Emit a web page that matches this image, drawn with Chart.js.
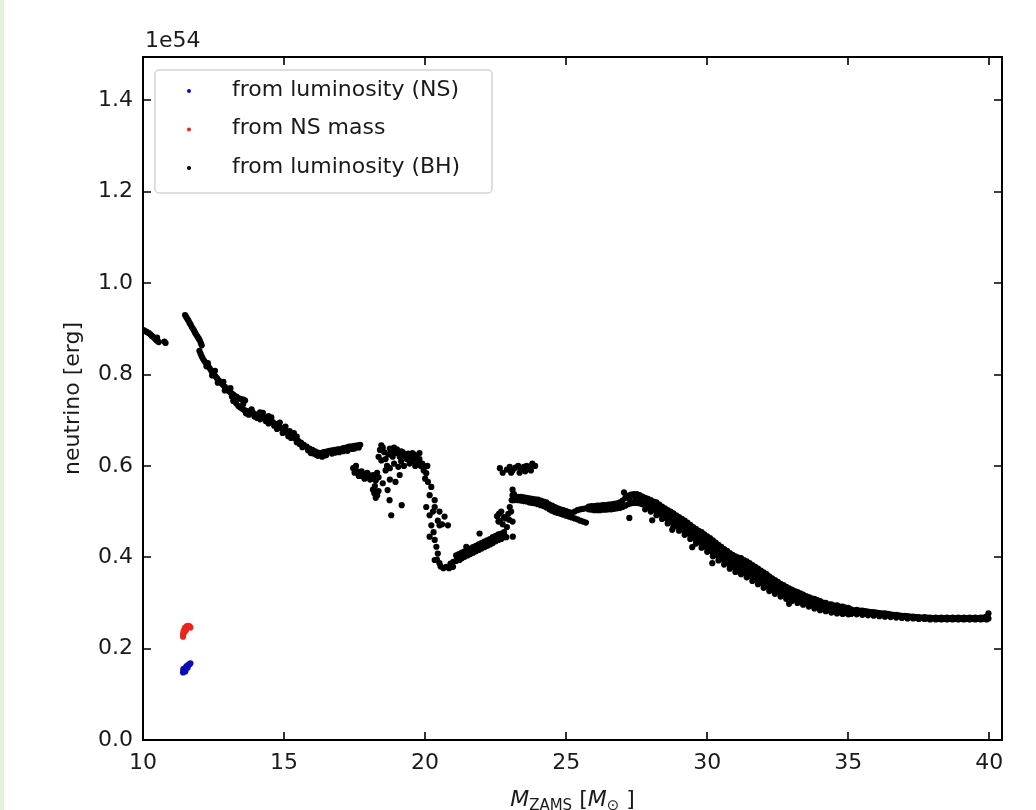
<!DOCTYPE html>
<html><head><meta charset="utf-8">
<script src="https://cdn.jsdelivr.net/npm/chart.js@4.4.1/dist/chart.umd.min.js"></script>
<style>
html,body{margin:0;padding:0;background:#fff;}
#wrap{position:relative;width:1036px;height:810px;overflow:hidden;}
#strip{position:absolute;left:0;top:0;width:4px;height:810px;background:#e4f0dc;}
canvas{display:block;}
</style></head><body>
<div id="wrap"><canvas id="c" width="1036" height="810"></canvas><div id="strip"></div></div>
<script>
// ---------------- data ----------------
const xTicks = [10, 15, 20, 25, 30, 35, 40];
const yTicks = [0, 0.2, 0.4, 0.6, 0.8, 1.0, 1.2, 1.4];
const seriesLabels = ['from luminosity (NS)', 'from NS mass', 'from luminosity (BH)'];
const seriesColors = ['#0d0db4', '#e8261e', '#000000'];

const nsLumPoints = [[11.42,0.148],[11.45,0.152],[11.48,0.156],[11.52,0.159],[11.55,0.162],[11.6,0.164],[11.65,0.166],[11.68,0.168],[11.43,0.155],[11.5,0.15],[11.58,0.158]];
const nsMassPoints = [[11.42,0.232],[11.44,0.238],[11.47,0.243],[11.5,0.246],[11.55,0.249],[11.6,0.25],[11.65,0.249],[11.68,0.246],[11.42,0.226],[11.46,0.235],[11.52,0.24]];

const bhLowMass = [[10.02,0.897],[10.08,0.895],[10.14,0.893],[10.2,0.891],[10.26,0.888],[10.3,0.885],[10.35,0.883],[10.4,0.88],[10.44,0.878],[10.48,0.875],[10.52,0.873],[10.56,0.871],[10.5,0.881],[10.76,0.872],[10.8,0.869]];

const bhDecline = [[11.49,0.930],[11.53,0.926],[11.57,0.922],[11.61,0.918],[11.65,0.913],[11.69,0.909],[11.73,0.904],[11.77,0.9],[11.81,0.896],[11.85,0.891],[11.89,0.887],[11.93,0.883],[11.97,0.879],[12.01,0.875],[12.05,0.869],[12.08,0.864],[12.0,0.852],[12.04,0.846],[12.08,0.84],[12.12,0.835],[12.17,0.83],[12.22,0.826],[12.27,0.822],[12.32,0.818],[12.37,0.813],[12.42,0.808],[12.47,0.804],[12.52,0.8],[12.57,0.796],[12.62,0.792],[12.67,0.788],[12.72,0.785],[12.78,0.781],[12.84,0.777],[12.9,0.773],[12.96,0.769],[13.02,0.765],[13.08,0.762],[13.14,0.759],[13.2,0.756],[13.26,0.753],[13.32,0.751],[13.4,0.748],[13.48,0.746],[13.56,0.745],[13.62,0.743],[13.2,0.742],[13.3,0.737],[13.38,0.731],[13.45,0.728],[13.52,0.725],[13.6,0.722],[13.7,0.72],[13.8,0.718],[13.9,0.716],[14.0,0.713],[14.1,0.711],[14.2,0.708],[14.3,0.706],[14.4,0.703],[14.5,0.7],[14.6,0.696],[14.7,0.692],[14.8,0.687],[14.9,0.683],[15.0,0.678],[15.1,0.674],[15.2,0.669],[15.3,0.664],[15.4,0.66],[15.5,0.655],[15.6,0.651],[15.7,0.646],[15.8,0.642],[15.9,0.638],[16.0,0.635],[16.1,0.632],[16.2,0.629],[16.3,0.628],[16.4,0.63],[16.5,0.631],[16.6,0.633],[16.7,0.634],[16.8,0.635],[16.9,0.636],[17.0,0.637],[17.1,0.639],[17.2,0.64],[17.3,0.642],[17.4,0.643],[17.5,0.644],[17.6,0.645],[17.7,0.646],[13.75,0.712],[14.05,0.705],[14.35,0.698],[14.65,0.688],[14.95,0.672],[15.25,0.661],[15.55,0.648],[15.85,0.634],[16.05,0.627],[16.2,0.622],[16.35,0.62],[16.5,0.624],[16.7,0.627],[16.95,0.63],[17.25,0.633],[17.5,0.638],[14.25,0.716],[14.55,0.706],[15.05,0.686],[15.35,0.672],[12.55,0.808],[12.3,0.825],[12.85,0.784],[13.1,0.77],
[12.25,0.818],[12.45,0.798],[12.65,0.782],[12.9,0.765],[13.15,0.752],[13.65,0.715],[13.95,0.708],[14.15,0.702],[14.45,0.693],[14.75,0.681],[15.15,0.665],[15.45,0.652],[15.65,0.641],[15.95,0.628],[16.15,0.624],[16.45,0.623],[16.8,0.629],[17.1,0.632],[17.4,0.637],[17.65,0.64],[13.55,0.735],[13.85,0.724],[14.15,0.717],[14.45,0.709],[14.85,0.695],[15.2,0.676],[15.45,0.664]];

const bhDip = [[17.45,0.595],[17.5,0.585],[17.55,0.6],[17.6,0.588],[17.65,0.578],[17.7,0.578],[17.75,0.588],[17.8,0.582],[17.85,0.572],[17.9,0.575],[17.95,0.585],[18.0,0.58],[18.05,0.57],[18.1,0.572],[18.15,0.58],[18.2,0.578],[18.25,0.568],[18.3,0.585],[18.35,0.575],[18.15,0.548],[18.2,0.54],[18.25,0.53],[18.3,0.535],[18.35,0.545],[18.22,0.556],[18.5,0.562],[18.67,0.547],[18.74,0.525],[18.8,0.492],[19.17,0.514],[18.75,0.57],[18.95,0.565],[19.1,0.58],[18.35,0.62],[18.4,0.635],[18.45,0.645],[18.5,0.64],[18.55,0.63],[18.6,0.615],[18.65,0.6],[18.7,0.625],[18.75,0.638],[18.8,0.632],[18.85,0.62],[18.9,0.605],[18.95,0.628],[19.0,0.636],[19.05,0.63],[19.1,0.62],[19.15,0.61],[19.2,0.63],[19.25,0.622],[19.3,0.625],[19.35,0.615],[19.4,0.627],[19.45,0.62],[19.5,0.62],[19.55,0.61],[19.6,0.625],[19.65,0.618],[19.7,0.622],[19.75,0.61],[19.8,0.615],[19.85,0.6],[19.9,0.605],[19.95,0.59],[18.6,0.59],[18.75,0.595],[19.05,0.598],[19.25,0.6],[19.45,0.605],[19.65,0.6],[18.45,0.612],[18.9,0.64],[19.15,0.632],[19.55,0.628],[19.8,0.628],[19.92,0.598],[20.04,0.584],[20.1,0.565],[20.22,0.554],[20.16,0.536],[20.34,0.525],[20.04,0.51],[20.34,0.51],[20.51,0.5],[20.69,0.489],[20.81,0.47],[20.51,0.47],[20.16,0.492],[20.22,0.47],[20.16,0.445],[20.34,0.438],[20.4,0.423],[20.45,0.408],[20.34,0.394],[20.51,0.387],[20.0,0.572],[20.08,0.6],[20.28,0.5],[20.3,0.455],[20.45,0.48],[20.6,0.472],[20.42,0.395]];

const bhRise = [[20.55,0.38],[20.65,0.376],[20.75,0.379],[20.85,0.376],[20.9,0.386],[20.99,0.379],[21.0,0.39],[21.1,0.392],[21.1,0.404],[21.2,0.395],[21.2,0.407],[21.3,0.398],[21.3,0.41],[21.4,0.401],[21.4,0.413],[21.5,0.404],[21.5,0.416],[21.6,0.407],[21.6,0.419],[21.7,0.41],[21.7,0.422],[21.8,0.413],[21.8,0.425],[21.9,0.416],[21.9,0.428],[22.0,0.419],[22.0,0.431],[22.1,0.422],[22.1,0.434],[22.2,0.425],[22.2,0.437],[22.3,0.428],[22.3,0.44],[22.4,0.431],[22.4,0.444],[22.5,0.435],[22.5,0.447],[22.6,0.438],[22.6,0.45],[22.7,0.44],[22.7,0.452],[22.8,0.444],[22.8,0.455],[22.88,0.444],[23.11,0.445],[21.93,0.452],[21.46,0.423],[21.22,0.394],[22.55,0.49],[22.6,0.478],[22.65,0.48],[22.7,0.5],[22.75,0.472],[22.8,0.488],[22.85,0.485],[22.9,0.466],[22.95,0.495],[23.0,0.51],[23.05,0.5],[23.1,0.478],[23.15,0.525],[23.15,0.538],[23.1,0.548],[22.62,0.495],[22.98,0.482],[22.65,0.595],[22.75,0.585],[22.9,0.592],[23.0,0.598],[23.1,0.59],[23.2,0.596],[23.3,0.6],[23.4,0.592],[23.5,0.598],[23.6,0.6],[23.7,0.598],[23.8,0.605],[23.9,0.6],[23.35,0.585],[23.55,0.588],[23.05,0.585],[23.75,0.59]];

const bhPlateau = [[23.3,0.525],[23.3,0.532],[23.4,0.524],[23.4,0.532],[23.5,0.523],[23.5,0.531],[23.6,0.522],[23.6,0.53],[23.7,0.52],[23.7,0.529],[23.8,0.519],[23.8,0.528],[23.9,0.518],[23.9,0.527],[24.0,0.516],[24.0,0.526],[24.1,0.514],[24.1,0.524],[24.2,0.512],[24.2,0.522],[24.3,0.509],[24.3,0.52],[24.4,0.505],[24.4,0.516],[24.5,0.502],[24.5,0.513],[24.6,0.499],[24.6,0.51],[24.7,0.497],[24.7,0.507],[24.8,0.495],[24.8,0.505],[24.9,0.493],[24.9,0.503],[25.0,0.491],[25.0,0.501],[25.1,0.489],[25.1,0.499],[25.2,0.487],[25.2,0.497],[25.3,0.485],[25.3,0.5],[25.4,0.483],[25.4,0.503],[25.5,0.48],[25.5,0.505],[25.6,0.478],[25.6,0.506],[25.7,0.476],[25.7,0.507],[25.8,0.505],[25.8,0.511],[25.9,0.504],[25.9,0.512],[26.0,0.503],[26.0,0.512],[26.1,0.503],[26.1,0.513],[26.2,0.503],[26.2,0.513],[26.3,0.504],[26.3,0.514],[26.4,0.504],[26.4,0.514],[26.5,0.505],[26.5,0.515],[26.6,0.505],[26.6,0.516],[26.7,0.506],[26.7,0.517],[26.8,0.507],[26.8,0.518],[26.9,0.508],[26.9,0.52],[27.0,0.51],[27.0,0.524],[27.1,0.513],[27.1,0.53],[27.2,0.516],[27.2,0.535],[27.3,0.518],[27.3,0.537],[27.4,0.519],[27.4,0.538],[27.5,0.519],[27.5,0.538],[27.6,0.518],[27.6,0.536],[27.7,0.516],[27.7,0.533],[27.25,0.527],[27.45,0.53],[27.65,0.527],[27.05,0.542],[27.24,0.486],[23.1,0.536],[23.07,0.525]];

const bhTail = [
[27.8,0.505],[27.8,0.518],[27.8,0.53],[27.9,0.511],[27.9,0.523],[27.9,0.528],[28.0,0.5],[28.0,0.512],[28.0,0.525],[28.1,0.505],[28.1,0.518],[28.1,0.522],
[28.2,0.492],[28.2,0.506],[28.2,0.52],[28.3,0.496],[28.3,0.51],[28.3,0.515],[28.4,0.484],[28.4,0.497],[28.4,0.511],[28.5,0.486],[28.5,0.501],[28.5,0.507],
[28.6,0.474],[28.6,0.489],[28.6,0.503],[28.7,0.478],[28.7,0.493],[28.7,0.5],[28.8,0.466],[28.8,0.482],[28.8,0.496],[28.9,0.47],[28.9,0.485],[28.9,0.492],
[29.0,0.458],[29.0,0.473],[29.0,0.488],[29.1,0.461],[29.1,0.476],[29.1,0.484],[29.2,0.449],[29.2,0.464],[29.2,0.48],[29.3,0.453],[29.3,0.468],[29.3,0.476],
[29.4,0.44],[29.4,0.455],[29.4,0.471],[29.5,0.443],[29.5,0.458],[29.5,0.466],[29.6,0.43],[29.6,0.446],[29.6,0.462],[29.7,0.433],[29.7,0.45],[29.7,0.458],
[29.8,0.421],[29.8,0.438],[29.8,0.455],[29.9,0.424],[29.9,0.441],[29.9,0.45],[30.0,0.412],[30.0,0.428],[30.0,0.446],[30.1,0.415],[30.1,0.432],[30.1,0.442],
[30.2,0.402],[30.2,0.419],[30.2,0.437],[30.3,0.406],[30.3,0.422],[30.3,0.432],[30.4,0.393],[30.4,0.41],[30.4,0.427],[30.5,0.397],[30.5,0.413],[30.5,0.423],
[30.6,0.384],[30.6,0.401],[30.6,0.418],[30.7,0.388],[30.7,0.404],[30.7,0.414],[30.8,0.375],[30.8,0.392],[30.8,0.409],[30.9,0.379],[30.9,0.395],[30.9,0.405],
[31.0,0.368],[31.0,0.385],[31.0,0.402],[31.1,0.373],[31.1,0.39],[31.1,0.399],[31.2,0.363],[31.2,0.381],[31.2,0.398],[31.3,0.367],[31.3,0.385],[31.3,0.394],
[31.4,0.356],[31.4,0.373],[31.4,0.391],[31.5,0.36],[31.5,0.377],[31.5,0.387],[31.6,0.348],[31.6,0.365],[31.6,0.383],[31.7,0.352],[31.7,0.369],[31.7,0.379],
[31.8,0.341],[31.8,0.357],[31.8,0.375],[31.9,0.345],[31.9,0.361],[31.9,0.371],[32.0,0.333],[32.0,0.349],[32.0,0.367],[32.1,0.337],[32.1,0.353],[32.1,0.363],
[32.2,0.326],[32.2,0.341],[32.2,0.358],[32.3,0.331],[32.3,0.346],[32.3,0.354],[32.4,0.32],[32.4,0.334],[32.4,0.35],[32.5,0.325],[32.5,0.339],[32.5,0.346],
[32.6,0.314],[32.6,0.328],[32.6,0.342],[32.7,0.319],[32.7,0.332],[32.7,0.339],[32.8,0.309],[32.8,0.321],[32.8,0.335],[32.9,0.314],[32.9,0.326],[32.9,0.332],
[33.0,0.304],[33.0,0.316],[33.0,0.329],[33.1,0.308],[33.1,0.32],[33.1,0.326],[33.2,0.3],[33.2,0.311],[33.2,0.324],[33.3,0.304],[33.3,0.315],[33.3,0.321],
[33.4,0.296],[33.4,0.307],[33.4,0.318],[33.5,0.299],[33.5,0.31],[33.5,0.315],[33.6,0.292],[33.6,0.302],[33.6,0.313],[33.7,0.295],[33.7,0.305],[33.7,0.31],
[33.8,0.288],[33.8,0.298],[33.8,0.309],[33.9,0.291],[33.9,0.301],[33.9,0.306],[34.0,0.284],[34.0,0.294],[34.0,0.304],[34.1,0.287],[34.1,0.297],[34.1,0.301],
[34.2,0.282],[34.2,0.291],[34.2,0.3],[34.3,0.284],[34.3,0.294],[34.3,0.297],[34.4,0.279],[34.4,0.289],[34.4,0.297],[34.5,0.282],[34.5,0.291],[34.5,0.294],
[34.6,0.277],[34.6,0.286],[34.6,0.295],[34.7,0.28],[34.7,0.289],[34.7,0.292],[34.8,0.276],[34.8,0.284],[34.8,0.292],[34.9,0.278],[34.9,0.286],[34.9,0.29],
[35.0,0.275],[35.0,0.282],[35.0,0.289],[35.1,0.276],[35.1,0.286],[35.2,0.279],[35.2,0.284],[35.3,0.275],[35.3,0.285],[35.4,0.278],[35.4,0.283],
[35.5,0.274],[35.5,0.283],[35.6,0.277],[35.6,0.282],[35.7,0.273],[35.7,0.281],[35.8,0.276],[35.8,0.28],[35.9,0.272],[35.9,0.28],[36.0,0.275],[36.0,0.279],
[36.1,0.271],[36.1,0.278],[36.2,0.274],[36.2,0.277],[36.3,0.27],[36.3,0.277],[36.4,0.273],[36.4,0.276],[36.5,0.269],[36.5,0.275],[36.6,0.272],[36.6,0.274],
[36.7,0.268],[36.7,0.274],[36.8,0.271],[36.8,0.273],[36.9,0.267],[36.9,0.272],[37.0,0.27],[37.0,0.272],[37.1,0.266],[37.1,0.271],[37.2,0.269],[37.2,0.27],
[37.3,0.266],[37.3,0.27],[37.4,0.268],[37.4,0.269],[37.5,0.265],[37.5,0.269],[37.6,0.267],[37.6,0.268],[37.7,0.265],[37.7,0.269],[37.8,0.266],[37.8,0.268],
[37.9,0.264],[37.9,0.268],[38.0,0.266],[38.0,0.267],[38.1,0.264],[38.1,0.268],[38.2,0.265],[38.2,0.267],[38.3,0.264],[38.3,0.268],[38.4,0.265],[38.4,0.267],
[38.5,0.264],[38.5,0.268],[38.6,0.265],[38.6,0.267],[38.7,0.264],[38.7,0.268],[38.8,0.265],[38.8,0.267],[38.9,0.264],[38.9,0.268],[39.0,0.265],[39.0,0.267],
[39.1,0.264],[39.1,0.268],[39.2,0.265],[39.2,0.267],[39.3,0.264],[39.3,0.268],[39.4,0.265],[39.4,0.267],[39.5,0.264],[39.5,0.268],[39.6,0.265],[39.6,0.267],
[39.7,0.264],[39.7,0.268],[39.8,0.265],[39.8,0.268],[39.9,0.264],[39.9,0.27],[39.97,0.266],[39.97,0.277],
[28.05,0.481],[28.76,0.46],[29.47,0.422],[30.18,0.387],[32.9,0.298]];

const bhTailFill = [[28.0,0.508],[28.0,0.521],[28.1,0.512],[28.2,0.5],[28.2,0.514],[28.3,0.504],[28.4,0.492],[28.4,0.505],[28.5,0.494],[28.6,0.482],[28.6,0.497],[28.7,0.486],[28.8,0.474],[28.8,0.49],[28.9,0.478],[29.0,0.466],[29.0,0.481],[29.1,0.469],[29.2,0.457],[29.2,0.472],[29.3,0.461],[29.4,0.448],[29.4,0.463],[29.5,0.451],[29.6,0.438],[29.6,0.454],[29.7,0.441],[29.8,0.43],[29.8,0.446],[29.9,0.432],[30.0,0.42],[30.0,0.437],[30.1,0.424],[30.2,0.41],[30.2,0.428],[30.3,0.414],[30.4,0.401],[30.4,0.418],[30.5,0.405],[30.6,0.392],[30.6,0.409],[30.7,0.396],[30.8,0.383],[30.8,0.4],[30.9,0.387],[31.0,0.376],[31.0,0.393],[31.1,0.381],[31.2,0.372],[31.2,0.389],[31.3,0.376],[31.4,0.364],[31.4,0.382],[31.5,0.368],[31.6,0.356],[31.6,0.374],[31.7,0.36],[31.8,0.349],[31.8,0.366],[31.9,0.353],[32.0,0.341],[32.0,0.358],[32.1,0.345],[32.2,0.333],[32.2,0.35],[32.3,0.338],[32.4,0.327],[32.4,0.342],[32.5,0.332],[32.6,0.321],[32.6,0.335],[32.7,0.325],[32.8,0.315],[32.8,0.328],[32.9,0.32],[33.0,0.31],[33.0,0.322]];

// ---------------- chart ----------------
const toXY = arr => arr.map(p => ({x: p[0], y: p[1]}));
const bhPoints = [].concat(bhLowMass, bhDecline, bhDip, bhRise, bhPlateau, bhTail, bhTailFill);
const FONT = '"DejaVu Sans", sans-serif';

const framePlugin = {
  id: 'frame',
  afterDatasetsDraw(chart) {
    const {ctx, chartArea: a, scales: {x, y}} = chart;
    ctx.save();
    ctx.strokeStyle = '#000';
    ctx.lineWidth = 1.6;
    const tl = 8;
    ctx.beginPath();
    xTicks.forEach(v => {
      const px = Math.round(x.getPixelForValue(v));
      ctx.moveTo(px, a.bottom); ctx.lineTo(px, a.bottom - tl);
      ctx.moveTo(px, a.top); ctx.lineTo(px, a.top + tl);
    });
    yTicks.forEach(v => {
      const py = Math.round(y.getPixelForValue(v));
      ctx.moveTo(a.left, py); ctx.lineTo(a.left + tl, py);
      ctx.moveTo(a.right, py); ctx.lineTo(a.right - tl, py);
    });
    ctx.stroke();
    ctx.lineWidth = 2;
    ctx.strokeRect(a.left, a.top, a.right - a.left, a.bottom - a.top);

    // legend
    const lx = a.left + 12, ly = a.top + 13, lw = 337, lh = 123, r = 4;
    ctx.beginPath();
    ctx.moveTo(lx + r, ly);
    ctx.arcTo(lx + lw, ly, lx + lw, ly + lh, r);
    ctx.arcTo(lx + lw, ly + lh, lx, ly + lh, r);
    ctx.arcTo(lx, ly + lh, lx, ly, r);
    ctx.arcTo(lx, ly, lx + lw, ly, r);
    ctx.closePath();
    ctx.fillStyle = 'rgba(255,255,255,0.85)';
    ctx.fill();
    ctx.strokeStyle = '#d4d4d4';
    ctx.lineWidth = 1.5;
    ctx.stroke();
    ctx.font = '22px ' + FONT;
    ctx.textBaseline = 'middle';
    ctx.textAlign = 'left';
    chart.data.datasets.forEach((ds, i) => {
      const cy = ly + 20 + i * 38.5;
      ctx.beginPath();
      ctx.arc(lx + 34, cy + 1, 2, 0, Math.PI * 2);
      ctx.fillStyle = ds.backgroundColor;
      ctx.fill();
      ctx.fillStyle = '#1a1a1a';
      ctx.fillText(ds.label, lx + 77, cy);
    });
    ctx.restore();
  },
  afterDraw(chart) {
    const {ctx, chartArea: a} = chart;
    ctx.save();
    ctx.fillStyle = '#1a1a1a';
    ctx.textBaseline = 'alphabetic';
    ctx.textAlign = 'left';
    ctx.font = '22px ' + FONT;
    ctx.fillText('1e54', a.left + 2, a.top - 10);
    // x axis title: M_ZAMS [M_sun]
    const parts = [
      {t: 'M', f: 'italic 22px ' + FONT, dy: 0},
      {t: 'ZAMS', f: '15px ' + FONT, dy: 4},
      {t: ' [', f: '22px ' + FONT, dy: 0},
      {t: 'M', f: 'italic 22px ' + FONT, dy: 0},
      {t: '\u2299', f: '15px ' + FONT, dy: 4},
      {t: ' ]', f: '22px ' + FONT, dy: 0}
    ];
    let total = 0;
    parts.forEach(p => { ctx.font = p.f; p.w = ctx.measureText(p.t).width; total += p.w; });
    let cx = (a.left + a.right) / 2 - total / 2;
    const base = 806;
    parts.forEach(p => { ctx.font = p.f; ctx.fillText(p.t, cx, base + p.dy); cx += p.w; });
    ctx.restore();
  }
};

new Chart(document.getElementById('c'), {
  type: 'scatter',
  data: {
    datasets: [
      {label: seriesLabels[0], data: toXY(nsLumPoints), backgroundColor: seriesColors[0]},
      {label: seriesLabels[1], data: toXY(nsMassPoints), backgroundColor: seriesColors[1]},
      {label: seriesLabels[2], data: toXY(bhPoints), backgroundColor: seriesColors[2]}
    ]
  },
  options: {
    responsive: false,
    animation: false,
    events: [],
    layout: {padding: {top: 57, right: 34, left: 0, bottom: 0}},
    elements: {point: {radius: 3.1, borderWidth: 0, hoverRadius: 3.1}},
    plugins: {legend: {display: false}, tooltip: {enabled: false}},
    scales: {
      x: {
        type: 'linear', min: 10, max: 40.45,
        afterBuildTicks: s => { s.ticks = xTicks.map(v => ({value: v})); },
        afterFit: s => { s.height = 70; },
        grid: {display: false, drawTicks: false},
        border: {display: false},
        ticks: {padding: 10, color: '#1a1a1a', font: {family: FONT, size: 22}, maxRotation: 0, autoSkip: false, callback: v => String(v)}
      },
      y: {
        type: 'linear', min: 0, max: 1.495,
        afterBuildTicks: s => { s.ticks = yTicks.map(v => ({value: v})); },
        afterFit: s => { s.width = 143; },
        grid: {display: false, drawTicks: false},
        border: {display: false},
        title: {display: true, text: 'neutrino [erg]', color: '#1a1a1a', font: {family: FONT, size: 22}, padding: {top: 60, bottom: 0}},
        ticks: {padding: 10, color: '#1a1a1a', font: {family: FONT, size: 22}, autoSkip: false, callback: v => Number(v).toFixed(1)}
      }
    }
  },
  plugins: [framePlugin]
});
</script>
</body></html>
